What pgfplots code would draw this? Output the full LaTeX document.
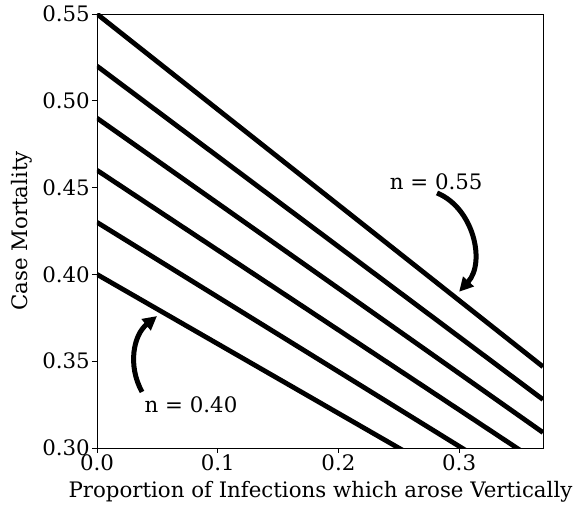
\documentclass[border=0pt]{standalone}
\usepackage{fontspec}
\setmainfont{DejaVu Serif}
\usepackage{pgfplots}
\pgfplotsset{compat=1.18}
\usetikzlibrary{arrows.meta}
\begin{document}
\begin{tikzpicture}[x=1bp,y=1bp]
\useasboundingbox (-97,-57) rectangle (477,448);
\begin{axis}[
  at={(0,0)}, anchor=south west,
  scale only axis, width=446bp, height=434bp,
  xmin=0, xmax=0.3695, ymin=0.30, ymax=0.55,
  xtick={0,0.1,0.2,0.3}, ytick={0.30,0.35,0.40,0.45,0.50,0.55},
  xticklabel style={inner sep=1bp, /pgf/number format/.cd,fixed,fixed zerofill,precision=1},
  yticklabel style={inner sep=2bp, /pgf/number format/.cd,fixed,fixed zerofill,precision=2},
  /pgf/number format/assume math mode=true,
  tick align=outside, tick pos=left,
  major tick length=5bp,
  every tick/.style={black, line width=0.8bp},
  axis line style={line width=0.8bp},
  ticklabel style={font=\fontsize{21.4}{24}\selectfont},
  label style={font=\fontsize{21.4}{24}\selectfont},
  xlabel={Proportion of Infections which arose Vertically},
  ylabel={Case Mortality},
  xlabel style={at={(axis description cs:0.501,0)}, anchor=center, yshift=-44bp},
  ylabel style={at={(axis description cs:0,0.5)}, anchor=center, yshift=75bp},
  clip=true,
]
\addplot[black, line width=4.8bp] coordinates {(0,0.40) (0.3695,0.2522)};
\addplot[black, line width=4.8bp] coordinates {(0,0.43) (0.3695,0.2711)};
\addplot[black, line width=4.8bp] coordinates {(0,0.46) (0.3695,0.2900)};
\addplot[black, line width=4.8bp] coordinates {(0,0.49) (0.3695,0.3089)};
\addplot[black, line width=4.8bp] coordinates {(0,0.52) (0.3695,0.3279)};
\addplot[black, line width=4.8bp] coordinates {(0,0.55) (0.3695,0.3468)};
\node[font=\fontsize{21.4}{24}\selectfont] at (axis cs:0.2810,0.4532) {n = 0.55};
\node[font=\fontsize{21.4}{24}\selectfont] at (axis cs:0.0779,0.3248) {n = 0.40};
\draw[line width=5bp, -{Triangle[length=14bp,width=14bp]}] (axis cs:0.2817,0.4469) to[bend left=55] (axis cs:0.3000,0.3900);
\draw[line width=5bp, -{Triangle[length=14bp,width=14bp]}] (axis cs:0.0373,0.3323) to[bend left=40] (axis cs:0.0497,0.3760);
\end{axis}
\end{tikzpicture}
\end{document}
